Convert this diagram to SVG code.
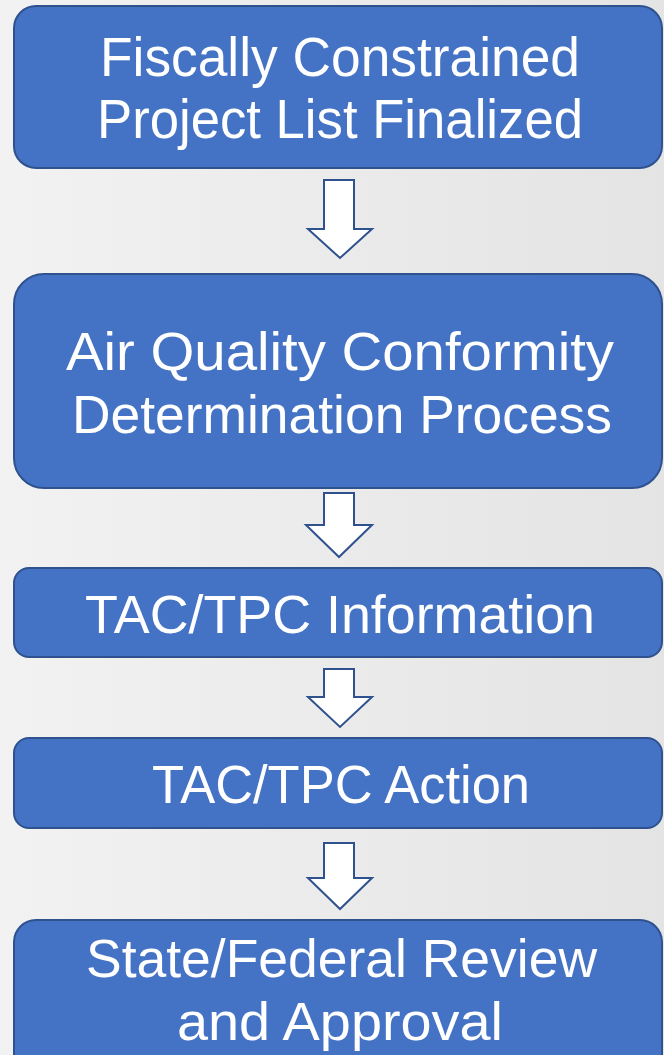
<svg xmlns="http://www.w3.org/2000/svg" width="664" height="1055" viewBox="0 0 664 1055">
<defs>
<linearGradient id="bg" x1="0" y1="0" x2="1" y2="0">
<stop offset="0" stop-color="#f2f2f2"/>
<stop offset="1" stop-color="#e4e4e4"/>
</linearGradient>
</defs>
<style>
.box{fill:#4472C4;stroke:#2F528F;stroke-width:2}
.arr{fill:#ffffff;stroke:#2F528F;stroke-width:2;stroke-linejoin:miter}
.t{fill:#ffffff;font-family:"Liberation Sans",Arial,sans-serif;font-size:54px;text-anchor:start}
</style>
<rect x="0" y="0" width="664" height="1055" fill="url(#bg)"/>
<g id="n1">
<rect class="box" x="14" y="6" width="648" height="162" rx="22"/>
<text class="t" x="100" y="76" textLength="480" lengthAdjust="spacingAndGlyphs" style="font-size:56px">Fiscally Constrained</text>
<text class="t" x="97" y="138" textLength="486" lengthAdjust="spacingAndGlyphs" style="font-size:56px">Project List Finalized</text>
</g>
<g id="n2">
<rect class="box" x="14" y="274" width="648" height="214" rx="30"/>
<text class="t" x="66" y="370" textLength="548" lengthAdjust="spacingAndGlyphs">Air Quality Conformity</text>
<text class="t" x="72" y="433" textLength="540" lengthAdjust="spacingAndGlyphs">Determination Process</text>
</g>
<g id="n3">
<rect class="box" x="14" y="568" width="648" height="89" rx="15"/>
<text class="t" x="85" y="633" textLength="510" lengthAdjust="spacingAndGlyphs">TAC/TPC Information</text>
</g>
<g id="n4">
<rect class="box" x="14" y="738" width="648" height="90" rx="15"/>
<text class="t" x="152" y="803" textLength="378" lengthAdjust="spacingAndGlyphs">TAC/TPC Action</text>
</g>
<g id="n5">
<rect class="box" x="14" y="920" width="648" height="160" rx="22"/>
<text class="t" x="86" y="977" textLength="511" lengthAdjust="spacingAndGlyphs">State/Federal Review</text>
<text class="t" x="177" y="1040" textLength="326" lengthAdjust="spacingAndGlyphs">and Approval</text>
</g>
<g id="connectors">
<polygon class="arr" points="324,180 354,180 354,229 372,229 340,258 308,229 324,229"/>
<polygon class="arr" points="324,493 354,493 354,525 372,525 339,557 306,525 324,525"/>
<polygon class="arr" points="324,669 354,669 354,697 372,697 340,727 308,697 324,697"/>
<polygon class="arr" points="324,843 354,843 354,878 372,878 340,909 308,878 324,878"/>
</g>
</svg>
